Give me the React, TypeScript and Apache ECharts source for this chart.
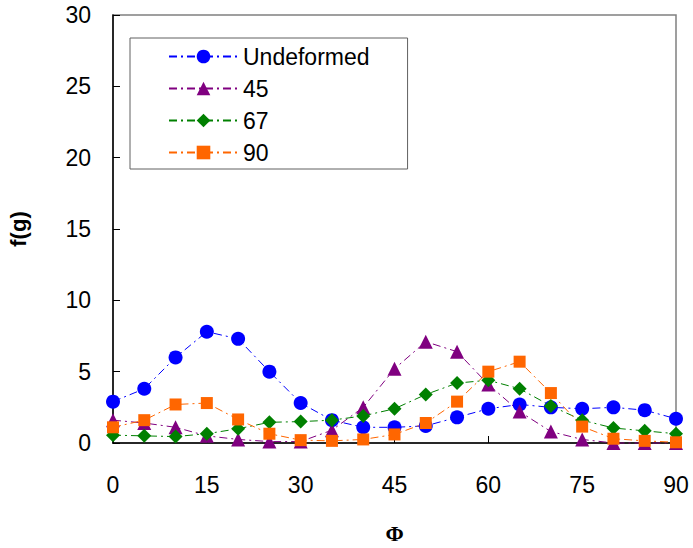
import React, { useEffect, useRef } from "react";
import * as echarts from "echarts";

// Orientation angle Φ (degrees)
const phi = [0, 5, 10, 15, 20, 25, 30, 35, 40, 45, 50, 55, 60, 65, 70, 75, 80, 85, 90];

// f(g) values per sample
const undeformed = [2.9, 3.8, 6.0, 7.8, 7.3, 5.0, 2.8, 1.6, 1.1, 1.1, 1.2, 1.8, 2.4, 2.7, 2.5, 2.4, 2.5, 2.3, 1.7];
const deg45 = [1.6, 1.4, 1.1, 0.5, 0.25, 0.1, 0.1, 0.9, 2.5, 5.2, 7.1, 6.4, 4.1, 2.2, 0.8, 0.25, 0.0, 0.0, 0.0];
const deg67 = [0.55, 0.5, 0.45, 0.65, 1.0, 1.45, 1.5, 1.6, 1.9, 2.4, 3.4, 4.2, 4.4, 3.8, 2.6, 1.6, 1.05, 0.85, 0.65];
const deg90 = [1.1, 1.6, 2.7, 2.8, 1.65, 0.65, 0.2, 0.15, 0.25, 0.6, 1.4, 2.9, 5.0, 5.7, 3.5, 1.15, 0.3, 0.15, 0.05];

const seriesNames = ["Undeformed", "45", "67", "90"];
const seriesValues = [undeformed, deg45, deg67, deg90];
const seriesColors = ["#0000FF", "#800080", "#008000", "#FF6600"];
const seriesSymbols = ["circle", "triangle", "diamond", "rect"];
const seriesSymbolSizes = [14, 14, 14, 12];

const FONT = "'Liberation Sans', Arial, sans-serif";

export default function App() {
  const ref = useRef<HTMLDivElement>(null);

  useEffect(() => {
    if (!ref.current) return;
    const chart = echarts.init(ref.current, undefined, { renderer: "svg" });

    const series = seriesNames.map((name, i) => ({
      name,
      type: "line",
      data: phi.map((x, j) => [x, seriesValues[i][j]]),
      symbol: seriesSymbols[i],
      symbolSize: seriesSymbolSizes[i],
      clip: false,
      itemStyle: { color: seriesColors[i] },
      lineStyle: { color: seriesColors[i], width: 1, type: [8, 4, 2, 4] },
    }));

    chart.setOption({
      animation: false,
      backgroundColor: "#ffffff",
      textStyle: { fontFamily: FONT },
      grid: {
        left: 113,
        top: 15,
        width: 563,
        height: 428,
        outerBoundsMode: "none",
        containLabel: false,
        show: true,
        borderColor: "#808080",
        borderWidth: 1.5,
        backgroundColor: "transparent",
      },
      legend: {
        orient: "vertical",
        left: 130,
        top: 38,
        data: seriesNames,
        itemWidth: 69,
        itemHeight: 17,
        itemGap: 9,
        padding: [7, 38, 5, 38],
        borderColor: "#606060",
        borderWidth: 1,
        textStyle: { fontSize: 23, color: "#000", fontFamily: FONT },
        selectedMode: false,
      },
      xAxis: {
        type: "value",
        min: 0,
        max: 90,
        interval: 15,
        name: "Φ",
        nameLocation: "middle",
        nameGap: 79,
        nameTextStyle: {
          fontSize: 22,
          fontWeight: "bold",
          color: "#000",
          fontFamily: "'Liberation Serif', 'DejaVu Serif', serif",
        },
        axisLine: { lineStyle: { color: "#000", width: 1.5 } },
        axisTick: { inside: true, length: 7, lineStyle: { color: "#000" } },
        axisLabel: { fontSize: 23, color: "#000", margin: 30 },
        splitLine: { show: false },
      },
      yAxis: {
        type: "value",
        min: 0,
        max: 30,
        interval: 5,
        name: "f(g)",
        nameLocation: "middle",
        nameGap: 84,
        nameTextStyle: { fontSize: 22, fontWeight: "bold", color: "#000" },
        axisLine: { lineStyle: { color: "#000", width: 1.5 } },
        axisTick: { inside: true, length: 7, lineStyle: { color: "#000" } },
        axisLabel: { fontSize: 23, color: "#000", margin: 22 },
        splitLine: { show: false },
      },
      series,
    });

    return () => chart.dispose();
  }, []);

  return (
    <div
      ref={ref}
      style={{ position: "absolute", left: 0, top: 0, width: 693, height: 548 }}
    />
  );
}
